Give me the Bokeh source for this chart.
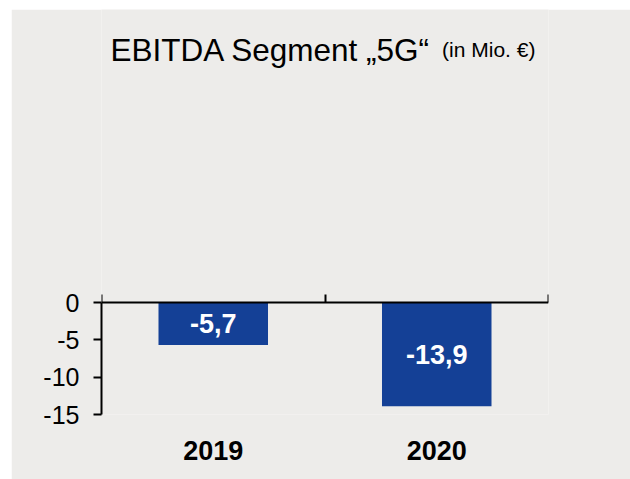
from bokeh.plotting import figure
from bokeh.models import (ColumnDataSource, Range1d, LinearAxis, FixedTicker, Label)
from bokeh.core.properties import value
from bokeh.embed import file_html
from bokeh.resources import INLINE

# ---- data ----
years = ["2019", "2020"]
ebitda = [-5.7, -13.9]
y_ticks = [0, -5, -10, -15]
y_tick_labels = ["0", "-5", "-10", "-15"]
title_main = "EBITDA Segment „5G“"
title_unit = "(in Mio. €)"

BG = "#EDECEA"
BAR = "#144096"
FONT = "Liberation Sans"

xs = [i + 0.5 for i in range(len(years))]
labels = [f"{v:.1f}".replace(".", ",") for v in ebitda]
src = ColumnDataSource(dict(x=xs, top=[0] * len(ebitda), bottom=ebitda,
                            mid=[v / 2 for v in ebitda], lab=labels))

W, H = 619, 470
Y_MIN, Y_MAX = min(y_ticks), max(y_ticks)
AXIS_PX = 112               # pixel height of the value axis (0 .. -15)
ZERO_FROM_TOP = 293         # pixels from canvas/frame top to the zero line
px_per_unit = AXIS_PX / (Y_MAX - Y_MIN)
y_top = Y_MAX + ZERO_FROM_TOP / px_per_unit

p = figure(width=W, height=H, output_backend="svg", toolbar_location=None,
           x_range=Range1d(0, len(years)), y_range=Range1d(Y_MIN, y_top),
           x_axis_location=None, y_axis_location=None,
           min_border_left=90, min_border_right=82, min_border_top=0,
           min_border_bottom=65,
           styles={"margin-left": "11px", "margin-top": "9px"})
p.background_fill_color = BG
p.border_fill_color = BG
p.outline_line_color = None
p.xgrid.visible = False
p.ygrid.visible = False

p.vbar(x="x", top="top", bottom="bottom", width=0.49, source=src,
       fill_color=BAR, line_color=None)
p.text(x="x", y="mid", text="lab", source=src, text_color="white",
       text_font=value(FONT), text_font_size="27px", text_font_style="bold",
       text_align="center", text_baseline="middle")

# y axis
ya = LinearAxis(ticker=FixedTicker(ticks=y_ticks), bounds=(Y_MIN, Y_MAX),
                major_label_overrides={t: l for t, l in zip(y_ticks, y_tick_labels)})
ya.axis_line_color = "black"
ya.axis_line_width = 2
ya.major_tick_line_color = "black"
ya.major_tick_line_width = 2
ya.major_tick_out = 8
ya.major_tick_in = 0
ya.minor_tick_line_color = None
ya.major_label_text_font = FONT
ya.major_label_text_font_size = "25px"
ya.major_label_text_color = "black"
ya.major_label_standoff = 14
p.add_layout(ya, "left")

# x axis line at zero with category-boundary ticks pointing up
xa = LinearAxis(ticker=FixedTicker(ticks=list(range(len(years) + 1))), fixed_location=0)
xa.axis_line_color = "black"
xa.axis_line_width = 2
xa.major_tick_line_color = "black"
xa.major_tick_line_width = 2
xa.major_tick_out = 0
xa.major_tick_in = 8
xa.minor_tick_line_color = None
xa.major_label_text_font_size = "0px"
xa.major_label_text_color = None
xa.major_label_standoff = 0
p.add_layout(xa, "below")

# category labels
xb = LinearAxis(ticker=FixedTicker(ticks=xs),
                major_label_overrides={x: y for x, y in zip(xs, years)})
xb.axis_line_color = None
xb.major_tick_line_color = None
xb.minor_tick_line_color = None
xb.major_label_text_font = FONT
xb.major_label_text_font_size = "27px"
xb.major_label_text_font_style = "bold"
xb.major_label_text_color = "black"
xb.major_label_standoff = 20
p.add_layout(xb, "below")

# title (data units, inside the frame)
title_y = y_top - 40.3 / px_per_unit
p.add_layout(Label(x=0.04, y=title_y, text=title_main, text_font=FONT,
                   text_font_size="31.5px", text_color="black",
                   text_baseline="alphabetic"))
p.add_layout(Label(x=1.524, y=title_y, text=title_unit, text_font=FONT,
                   text_font_size="21px", text_color="black",
                   text_baseline="alphabetic"))

open("out.html", "w").write(file_html(p, INLINE))
